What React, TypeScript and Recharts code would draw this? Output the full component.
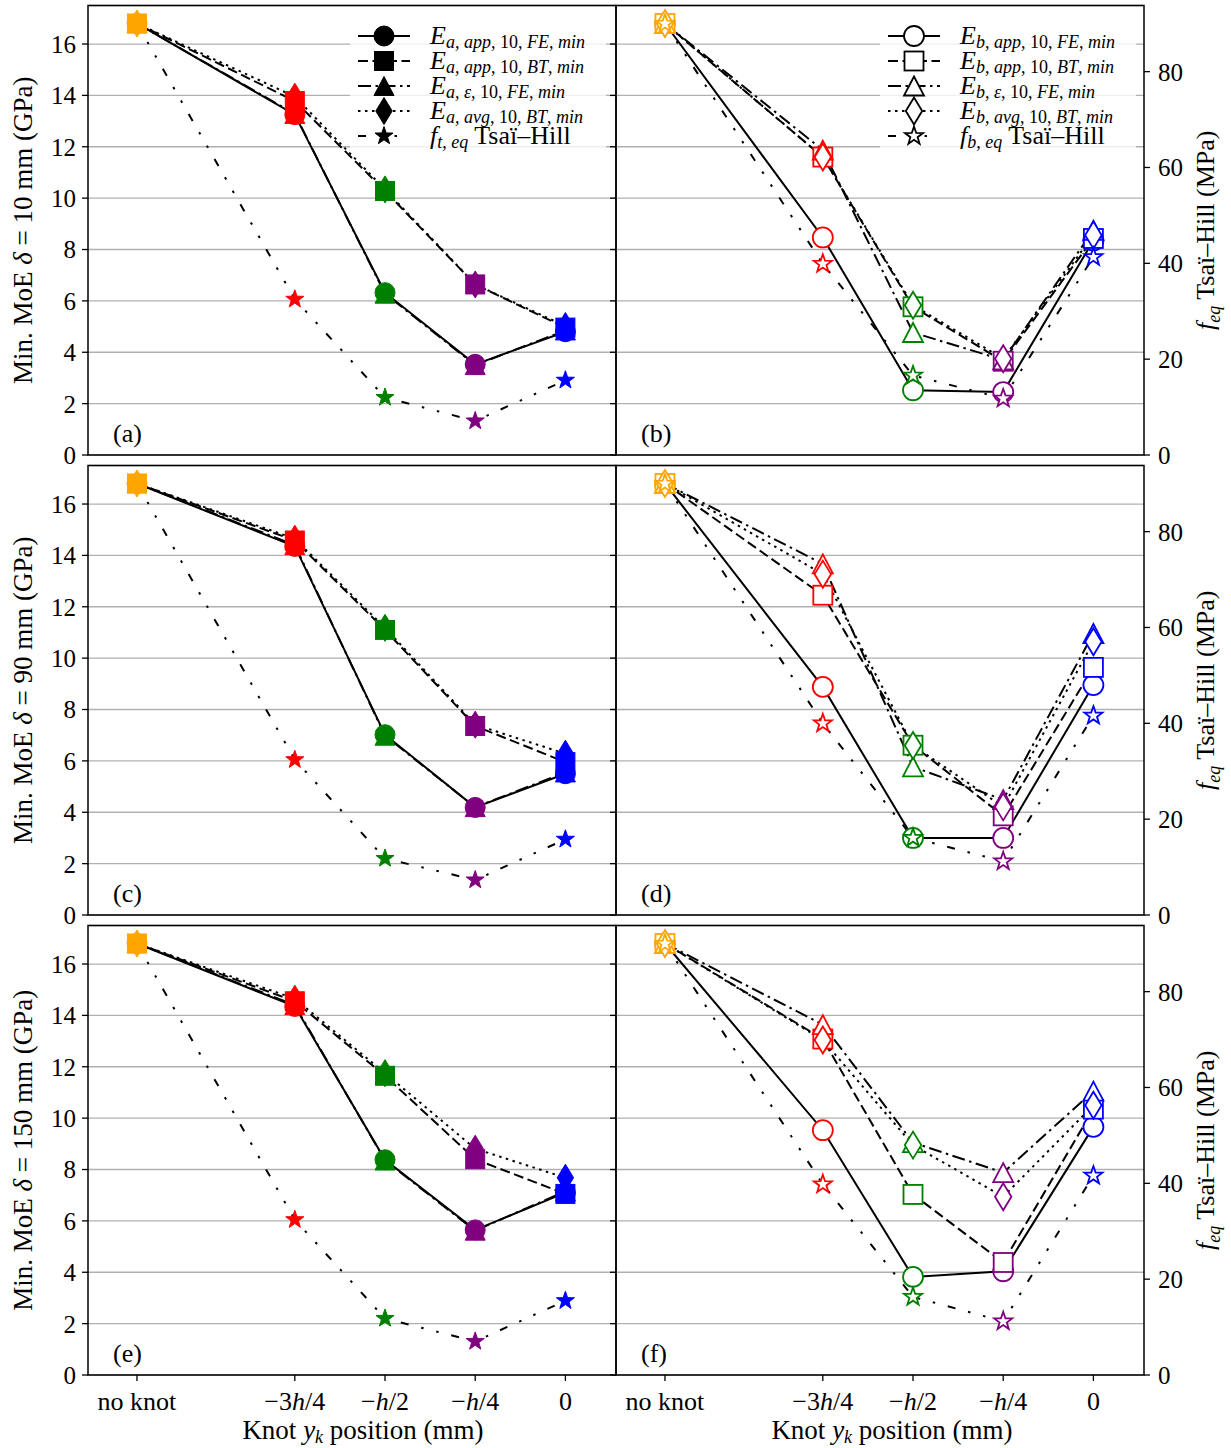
import React from 'react';
import { LineChart, Line, XAxis, YAxis, CartesianGrid, Customized } from 'recharts';

const FONT = "'Liberation Serif', 'DejaVu Serif', 'Times New Roman', serif";

// x positions of the categories (in units of h/4)
const xPositions = [-4.75, -3, -2, -1, 0];
const xTickLabels = ['no knot', '−3h/4', '−h/2', '−h/4', '0'];
const pointColors = ['#ffa500', '#ff0000', '#008000', '#800080', '#0000ff'];
const leftTicks = [0, 2, 4, 6, 8, 10, 12, 14, 16];
const rightTicks = [0, 20, 40, 60, 80];
const deltaLabels = ['10', '90', '150'];

// (a) delta = 10 mm, load case a (GPa) ; star in MPa
const aCircle = [16.8, 13.25, 6.32, 3.53, 4.8];
const aSquare = [16.8, 13.78, 10.28, 6.64, 4.96];
const aTriangle = [16.8, 13.28, 6.28, 3.5, 4.85];
const aDiamond = [16.8, 13.95, 10.34, 6.64, 5.02];
const aStar = [90, 32.5, 12.0, 7.1, 15.6];

// (b) delta = 10 mm, load case b
const bCircle = [16.8, 8.47, 2.52, 2.45, 8.35];
const bSquare = [16.8, 11.6, 5.77, 3.65, 8.43];
const bTriangle = [16.8, 11.87, 4.77, 3.7, 8.75];
const bDiamond = [16.8, 11.6, 5.83, 3.75, 8.56];
const bStar = [90, 39.9, 16.6, 11.8, 41.3];

// (c) delta = 90 mm, load case a
const cCircle = [16.8, 14.35, 7.02, 4.19, 5.5];
const cSquare = [16.8, 14.58, 11.1, 7.36, 5.95];
const cTriangle = [16.8, 14.4, 6.98, 4.2, 5.55];
const cDiamond = [16.8, 14.65, 11.18, 7.41, 6.28];
const cStar = [90, 32.4, 11.8, 7.3, 15.8];

// (d) delta = 90 mm, load case b
const dCircle = [16.8, 8.88, 3.0, 3.0, 8.95];
const dSquare = [16.8, 12.45, 6.61, 3.86, 9.64];
const dTriangle = [16.8, 13.67, 5.77, 4.49, 10.96];
const dDiamond = [16.8, 13.27, 6.6, 4.21, 10.64];
const dStar = [90, 40.0, 16.1, 11.2, 41.6];

// (e) delta = 150 mm, load case a
const eCircle = [16.8, 14.35, 8.38, 5.65, 7.1];
const eSquare = [16.8, 14.55, 11.65, 8.4, 7.05];
const eTriangle = [16.8, 14.4, 8.35, 5.62, 7.15];
const eDiamond = [16.8, 14.65, 11.75, 8.81, 7.68];
const eStar = [90, 32.4, 11.8, 7.0, 15.5];

// (f) delta = 150 mm, load case b
const fCircle = [16.8, 9.53, 3.82, 4.04, 9.66];
const fSquare = [16.8, 13.08, 7.03, 4.38, 10.35];
const fTriangle = [16.8, 13.64, 9.05, 7.88, 11.05];
const fDiamond = [16.8, 13.04, 8.95, 6.94, 10.5];
const fStar = [90, 39.8, 16.3, 11.2, 41.6];

const panels = [
  { id: 'a', row: 0, right: false, circle: aCircle, square: aSquare, triangle: aTriangle, diamond: aDiamond, star: aStar },
  { id: 'b', row: 0, right: true, circle: bCircle, square: bSquare, triangle: bTriangle, diamond: bDiamond, star: bStar },
  { id: 'c', row: 1, right: false, circle: cCircle, square: cSquare, triangle: cTriangle, diamond: cDiamond, star: cStar },
  { id: 'd', row: 1, right: true, circle: dCircle, square: dSquare, triangle: dTriangle, diamond: dDiamond, star: dStar },
  { id: 'e', row: 2, right: false, circle: eCircle, square: eSquare, triangle: eTriangle, diamond: eDiamond, star: eStar },
  { id: 'f', row: 2, right: true, circle: fCircle, square: fSquare, triangle: fTriangle, diamond: fDiamond, star: fStar },
];

const seriesDefs = [
  { key: 'c', shape: 'circle', dash: undefined as string | undefined, axis: 'l' },
  { key: 's', shape: 'square', dash: '10 4.5', axis: 'l' },
  { key: 't', shape: 'triangle', dash: '13 4.5 2.5 4.5', axis: 'l' },
  { key: 'd', shape: 'diamond', dash: '2.5 4.5', axis: 'l' },
  { key: 'f', shape: 'star', dash: '8 13 2.5 13 2.5 13', axis: 'r' },
];

// layout constants
const PLOT_TOP = 5.5;
const PLOT_H = 449.5;
const PLOT_W = 528;
const ROW_STEP = 460;
const X_DOMAIN: [number, number] = [-5.293, 0.561];
const L_DOMAIN: [number, number] = [0, 17.5];
const R_DOMAIN: [number, number] = [0, 93.8];

function starPoints(cx: number, cy: number, R: number, r: number) {
  const pts: string[] = [];
  for (let k = 0; k < 10; k++) {
    const ang = ((-90 + k * 36) * Math.PI) / 180;
    const rad = k % 2 === 0 ? R : r;
    pts.push(`${cx + rad * Math.cos(ang)},${cy + rad * Math.sin(ang)}`);
  }
  return pts.join(' ');
}

function Marker({ shape, cx, cy, color, hollow }: any) {
  if (cx == null || cy == null || isNaN(cx) || isNaN(cy)) return <g />;
  const fill = hollow ? '#ffffff' : color;
  const sw = hollow ? 1.8 : 1;
  const common = { fill, stroke: color, strokeWidth: sw };
  if (shape === 'circle') return <circle cx={cx} cy={cy} r={10} {...common} />;
  if (shape === 'square') return <rect x={cx - 9.5} y={cy - 9.5} width={19} height={19} {...common} />;
  if (shape === 'triangle')
    return <polygon points={`${cx},${cy - 9.5} ${cx + 10},${cy + 9.5} ${cx - 10},${cy + 9.5}`} {...common} />;
  if (shape === 'diamond')
    return <polygon points={`${cx},${cy - 13.5} ${cx + 8.2},${cy} ${cx},${cy + 13.5} ${cx - 8.2},${cy}`} {...common} />;
  return <polygon points={starPoints(cx, cy, 9.5, 3.8)} {...common} />;
}

function XTick(props: any) {
  const { x, y, payload } = props;
  const i = xPositions.indexOf(payload.value);
  const lab = i >= 0 ? xTickLabels[i] : '';
  const parts = lab.split('h');
  const children: any[] = [];
  parts.forEach((p, k) => {
    children.push(<tspan key={`p${k}`}>{p}</tspan>);
    if (k < parts.length - 1) children.push(<tspan key={`h${k}`} fontStyle="italic">h</tspan>);
  });
  return (
    <text x={x} y={y + 27} textAnchor="middle" fontFamily={FONT} fontSize={26} fill="#000">
      {children}
    </text>
  );
}

function SubText({ parts }: { parts: string[] }) {
  // letters italic, digits upright
  return (
    <>
      {parts.map((p, i) => (
        <tspan key={i} fontStyle={/^[0-9, ]+$/.test(p) ? 'normal' : 'italic'}>{p}</tspan>
      ))}
    </>
  );
}

function Decor({ right, row, id, originX }: any) {
  const pl = right ? 8 : 88;
  const pt = PLOT_TOP;
  const pb = PLOT_TOP + PLOT_H;
  const lg = right ? 530 : 0; // legend offset (absolute)
  const letter = right ? 'b' : 'a';
  const legX0 = 358 + lg - originX;
  const legMX = 384 + lg - originX;
  const legTX = 430 + lg - originX;
  const rowsY = [36, 61, 86, 111, 136];
  const subs = [
    [letter + ', ', 'app', ', 10, ', 'FE', ', ', 'min'],
    [letter + ', ', 'app', ', 10, ', 'BT', ', ', 'min'],
    [letter + ', ', 'ε', ', 10, ', 'FE', ', ', 'min'],
    [letter + ', ', 'avg', ', 10, ', 'BT', ', ', 'min'],
  ];
  return (
    <g>
      <rect x={pl} y={pt} width={PLOT_W} height={PLOT_H} fill="none" stroke="#000" strokeWidth={1.5} />
      <text x={pl + 25} y={pb - 13} fontFamily={FONT} fontSize={26} fill="#000">{`(${id})`}</text>
      {!right && (
        <text
          x={32}
          y={pt + PLOT_H / 2}
          transform={`rotate(-90, 32, ${pt + PLOT_H / 2})`}
          textAnchor="middle"
          fontFamily={FONT}
          fontSize={27}
          fill="#000"
        >
          <tspan>Min. MoE </tspan>
          <tspan fontStyle="italic">δ</tspan>
          <tspan>{` = ${deltaLabels[row]} mm (GPa)`}</tspan>
        </text>
      )}
      {right && (
        <text
          x={606}
          y={pt + PLOT_H / 2}
          transform={`rotate(-90, 606, ${pt + PLOT_H / 2})`}
          textAnchor="middle"
          fontFamily={FONT}
          fontSize={26}
          fill="#000"
        >
          <tspan fontStyle="italic">f</tspan>
          <tspan fontStyle="italic" fontSize={18} dy={6}>eq</tspan>
          <tspan dy={-6}> Tsaï–Hill (MPa)</tspan>
        </text>
      )}
      {row === 2 && (
        <text x={(right ? 892 : 363) - originX} y={519} textAnchor="middle" fontFamily={FONT} fontSize={27} fill="#000">
          <tspan>Knot </tspan>
          <tspan fontStyle="italic">y</tspan>
          <tspan fontStyle="italic" fontSize={18} dy={4}>k</tspan>
          <tspan dy={-4}> position (mm)</tspan>
        </text>
      )}
      {row === 0 && (
        <g>
          <rect x={350 + lg - originX} y={21} width={256} height={131} fill="#ffffff" fillOpacity={0.8} />
          {seriesDefs.map((s, i) => (
            <g key={s.key}>
              <line x1={legX0} x2={legX0 + 52} y1={rowsY[i]} y2={rowsY[i]} stroke="#000" strokeWidth={2} strokeDasharray={s.dash} />
              <Marker shape={s.shape} cx={legMX} cy={rowsY[i]} color="#000" hollow={right} />
              {i < 4 ? (
                <text x={legTX} y={rowsY[i] + 8} fontFamily={FONT} fontSize={26} fill="#000">
                  <tspan fontStyle="italic">E</tspan>
                  <tspan dy={4} fontSize={18}>
                    <SubText parts={subs[i]} />
                  </tspan>
                </text>
              ) : (
                <text x={legTX} y={rowsY[i] + 8} fontFamily={FONT} fontSize={26} fill="#000">
                  <tspan fontStyle="italic">f</tspan>
                  <tspan dy={4} fontSize={18} fontStyle="italic">{right ? 'b, eq' : 't, eq'}</tspan>
                  <tspan dy={-4}> Tsaï–Hill</tspan>
                </text>
              )}
            </g>
          ))}
        </g>
      )}
    </g>
  );
}

function Panel({ p }: any) {
  const right = p.right;
  const row = p.row;
  const bottom = row === 2;
  const originX = right ? 608 : 0;
  const width = right ? 623 : 620;
  const xAxisH = bottom ? 73 : 0;
  const bottomMargin = bottom ? 0 : 14;
  const height = PLOT_TOP + PLOT_H + xAxisH + bottomMargin;
  const data = xPositions.map((x, i) => ({
    x,
    ci: i,
    c: p.circle[i],
    s: p.square[i],
    t: p.triangle[i],
    d: p.diamond[i],
    f: p.star[i],
  }));
  return (
    <div style={{ position: 'absolute', left: originX, top: row * ROW_STEP, width, height }}>
      <LineChart
        width={width}
        height={height}
        data={data}
        margin={{ top: PLOT_TOP, right: right ? 0 : 4, bottom: bottomMargin, left: 0 }}
      >
        <CartesianGrid yAxisId="l" vertical={false} stroke="#b0b0b0" strokeWidth={1.3} />
        <XAxis
          dataKey="x"
          type="number"
          domain={X_DOMAIN}
          allowDataOverflow
          ticks={xPositions}
          hide={!bottom}
          height={xAxisH}
          axisLine={false}
          tickSize={6}
          tickLine={{ stroke: '#000', strokeWidth: 1.3 }}
          tick={<XTick />}
          interval={0}
        />
        <YAxis
          yAxisId="l"
          type="number"
          domain={L_DOMAIN}
          allowDataOverflow
          ticks={leftTicks}
          width={right ? 8 : 88}
          axisLine={false}
          tickSize={6}
          tickMargin={6}
          tickLine={{ stroke: '#000', strokeWidth: 1.3 }}
          tick={right ? () => <g /> : { fontSize: 25, fontFamily: FONT, fill: '#000' }}
          interval={0}
        />
        <YAxis
          yAxisId="r"
          orientation="right"
          type="number"
          domain={R_DOMAIN}
          allowDataOverflow
          ticks={rightTicks}
          hide={!right}
          width={87}
          axisLine={false}
          tickSize={6}
          tickMargin={8}
          tickLine={{ stroke: '#000', strokeWidth: 1.3 }}
          tick={{ fontSize: 25, fontFamily: FONT, fill: '#000' }}
          interval={0}
        />
        {seriesDefs.map((s) => (
          <Line
            key={s.key}
            yAxisId={s.axis}
            dataKey={s.key}
            type="linear"
            stroke="#000"
            strokeWidth={2}
            strokeDasharray={s.dash}
            isAnimationActive={false}
            activeDot={false}
            dot={(dp: any) => (
              <Marker
                key={`${s.key}-${dp.index}`}
                shape={s.shape}
                cx={dp.cx}
                cy={dp.cy}
                color={pointColors[dp.payload ? dp.payload.ci : dp.index]}
                hollow={right}
              />
            )}
          />
        ))}
        <Customized component={<Decor right={right} row={row} id={p.id} originX={originX} />} />
      </LineChart>
    </div>
  );
}

export default function App() {
  return (
    <div style={{ position: 'absolute', left: 0, top: 0, width: 1231, height: 1448, background: '#fff', fontFamily: FONT }}>
      {panels.map((p) => (
        <Panel key={p.id} p={p} />
      ))}
    </div>
  );
}
